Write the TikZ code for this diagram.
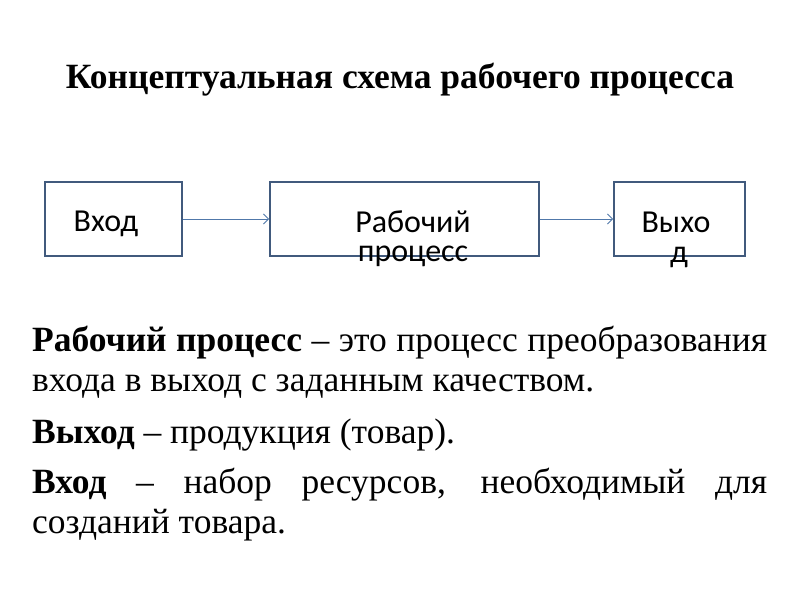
\documentclass[tikz,border=0pt]{standalone}
\usepackage{fontspec}
\setmainfont{Liberation Serif}
\newfontfamily\boxfont{Carlito}
\usetikzlibrary{arrows.meta}
\definecolor{boxline}{RGB}{65,90,125}
\definecolor{arrowline}{RGB}{80,120,170}
\tikzset{
  procbox/.style={draw=boxline, line width=1.8pt, fill=white, inner sep=0pt},
  boxtext/.style={font=\boxfont\fontsize{32}{29}\selectfont, inner sep=0pt, anchor=base},
  flow/.style={draw=arrowline, line width=0.9pt, -{Straight Barb[length=5pt,width=10pt]}},
  bodyline/.style={font=\fontsize{35.5}{40}\selectfont, inner sep=0pt, anchor=base west},
}
\begin{document}
\begin{tikzpicture}[x=1pt,y=-1pt]
\useasboundingbox (0,0) rectangle (800,600);
\fill[white] (0,0) rectangle (800,600);
\node[font=\bfseries\fontsize{35.5}{40}\selectfont, anchor=base, inner sep=0pt] (title) at (400,88) {Концептуальная схема рабочего процесса};
\node[procbox, minimum width=137pt, minimum height=74pt] (in) at (113.5,219) {};
\node[procbox, minimum width=269pt, minimum height=74pt] (proc) at (404.5,219) {};
\node[procbox, minimum width=131pt, minimum height=74pt] (out) at (679.5,219) {};
\draw[flow] (in.east) -- (proc.west);
\draw[flow] (proc.east) -- (out.west);
\node[boxtext] (tin) at (106,231) {Вход};
\node[boxtext] (tproc1) at (413,232) {Рабочий};
\node[boxtext] (tproc2) at (413,261) {процесс};
\node[boxtext] (tout1) at (676,232) {Выхо};
\node[boxtext] (tout2) at (679,262) {д};
\node[bodyline] (l1) at (32,351) {\makebox[735pt][s]{\textbf{Рабочий процесс} – это процесс преобразования}};
\node[bodyline] (l2) at (32,391) {входа в выход с заданным качеством.};
\node[bodyline] (l3) at (32,443) {\textbf{Выход} – продукция (товар).};
\node[bodyline] (l4) at (32,493) {\makebox[735pt][s]{\textbf{Вход} – набор ресурсов, необходимый для}};
\node[bodyline] (l5) at (32,533) {созданий товара.};
\end{tikzpicture}
\end{document}
